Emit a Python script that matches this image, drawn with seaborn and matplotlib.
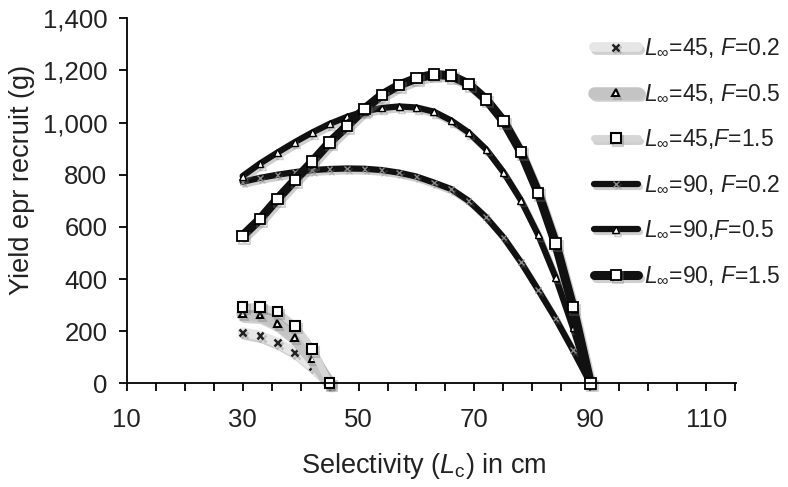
import matplotlib
matplotlib.use('Agg')
import matplotlib.pyplot as plt
import matplotlib.patheffects as pe
from matplotlib.ticker import FuncFormatter, MultipleLocator
import pandas as pd
import seaborn as sns

# Selectivity (Lc) values for each asymptotic length
lc_45 = [30, 33, 36, 39, 42, 45]
lc_90 = [30, 33, 36, 39, 42, 45, 48, 51, 54, 57, 60, 63, 66, 69, 72, 75, 78, 81, 84, 87, 90]

# Yield per recruit (g)
y45_f02 = [196, 183, 156, 119, 64, 0]
y45_f05 = [266, 262, 230, 176, 96, 0]
y45_f15 = [294, 294, 275, 221, 132, 0]
y90_f02 = [773, 788, 800, 810, 818, 822, 824, 823, 818, 808, 793, 770, 745, 700, 637, 560, 465, 358, 248, 127, 0]
y90_f05 = [795, 843, 885, 925, 962, 995, 1022, 1043, 1056, 1062, 1058, 1042, 1008, 962, 898, 810, 703, 569, 407, 213, 0]
y90_f15 = [566, 630, 707, 779, 850, 924, 987, 1052, 1106, 1144, 1170, 1185, 1180, 1148, 1089, 1006, 888, 731, 537, 292, 0]

labels = [r'$L_{\infty}$=45, $F$=0.2', r'$L_{\infty}$=45, $F$=0.5', r'$L_{\infty}$=45,$F$=1.5',
          r'$L_{\infty}$=90, $F$=0.2', r'$L_{\infty}$=90,$F$=0.5', r'$L_{\infty}$=90, $F$=1.5']

# long-form table, one row per point
frames = []
for lab, xs, ys in zip(labels, [lc_45] * 3 + [lc_90] * 3,
                       [y45_f02, y45_f05, y45_f15, y90_f02, y90_f05, y90_f15]):
    frames.append(pd.DataFrame({'Lc': xs, 'ypr': ys, 'series': lab}))
df = pd.concat(frames, ignore_index=True)

sns.set_style('ticks')
plt.rcParams['font.family'] = ['Liberation Sans', 'DejaVu Sans']
plt.rcParams['mathtext.fontset'] = 'custom'
plt.rcParams['mathtext.rm'] = 'Liberation Sans'
plt.rcParams['mathtext.it'] = 'Liberation Sans:italic'

# line / marker look for each series
styles = [
    dict(color='#e6e6e6', lw=7, marker='x', ms=5, mec='#222222', mew=1.8),
    dict(color='#c4c4c4', lw=9, marker='^', ms=5, mfc='white', mec='black', mew=1.5),
    dict(color='#d6d6d6', lw=5, marker='s', ms=7, mfc='white', mec='black', mew=1.5),
    dict(color='#111111', lw=4.5, marker='x', ms=4, mec='#888888', mew=1),
    dict(color='#111111', lw=4.5, marker='^', ms=5, mfc='white', mec='black', mew=1),
    dict(color='#111111', lw=6.5, marker='s', ms=7.5, mfc='white', mec='black', mew=1.3),
]
shadow = [pe.SimpleLineShadow(offset=(1.5, -2), shadow_color='#777777', alpha=0.35), pe.Normal()]

fig = plt.figure(figsize=(7.88, 4.87), dpi=100)
ax = fig.add_axes([0.1608, 0.2129, 0.773, 0.7495])

for lab, st in zip(labels, styles):
    sns.lineplot(data=df[df['series'] == lab], x='Lc', y='ypr', ax=ax, label=lab,
                 solid_capstyle='round', path_effects=shadow, clip_on=False, **st)

ax.set_xlim(10, 115.1)
ax.set_ylim(0, 1400)
ax.set_xticks([10, 30, 50, 70, 90, 110])
ax.xaxis.set_minor_locator(MultipleLocator(5))
ax.yaxis.set_major_locator(MultipleLocator(200))
ax.yaxis.set_major_formatter(FuncFormatter(lambda v, p: f'{int(v):,}'))
ax.tick_params(axis='both', which='both', direction='out', length=6, width=1.3, color='black',
               labelsize=18.5, labelcolor='#222222')
ax.tick_params(axis='x', which='major', pad=12)
ax.tick_params(axis='y', pad=8)
for s in ['left', 'bottom']:
    ax.spines[s].set_linewidth(1.3)
    ax.spines[s].set_color('black')
sns.despine(ax=ax)

ax.set_xlabel(r'Selectivity ($L_{\mathrm{c}}$) in cm', fontsize=19.5, color='#222222')
ax.set_ylabel('Yield epr recruit (g)', fontsize=19.5, color='#222222')
ax.xaxis.set_label_coords(0.488, -0.185)
ax.yaxis.set_label_coords(-0.15, 0.556)

leg = ax.legend(loc='upper left', bbox_to_anchor=(594 / 788, 1 - 37 / 487),
                bbox_transform=fig.transFigure, frameon=False, fontsize=16.5,
                handlelength=1.9, handletextpad=0.3, labelspacing=0.98,
                borderpad=0, borderaxespad=0)
for t in leg.get_texts():
    t.set_color('#222222')

fig.savefig('out.png', dpi=100)
